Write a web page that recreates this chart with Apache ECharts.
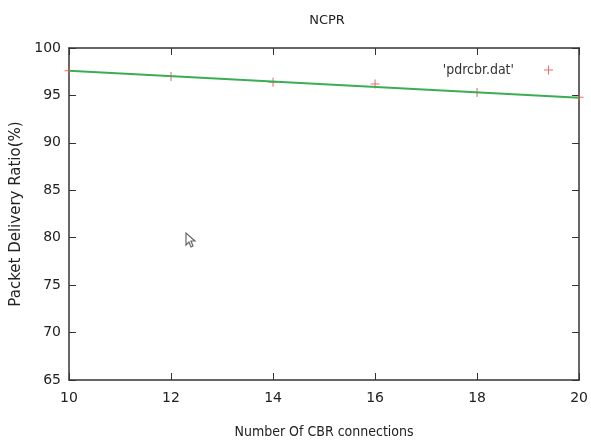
<!DOCTYPE html>
<html>
<head>
<meta charset="utf-8">
<script src="https://cdn.jsdelivr.net/npm/echarts@6/dist/echarts.min.js"></script>
<style>
  html, body { margin: 0; padding: 0; background: #fff; }
  #chart { width: 591px; height: 444px; }
</style>
</head>
<body>
<div id="chart"></div>
<script>
// Number of CBR connections and measured packet delivery ratio (%)
const connections = [10, 12, 14, 16, 18, 20];
const deliveryRatio = [97.6, 97.0, 96.4, 96.2, 95.3, 94.8];

// Straight trend line through the measurements (end points)
const trendX = [10, 20];
const trendY = [97.6, 94.75];

const xTicks = { min: 10, max: 20, interval: 2 };
const yTicks = { min: 65, max: 100, interval: 5 };

const font = 'DejaVu Sans';
const narrowFont = 'DejaVu Sans Condensed';
const axisColor = '#333';
const pointColor = '#e5484d';
const plusIcon = 'path://M4.4,0H5.6V4.4H10V5.6H5.6V10H4.4V5.6H0V4.4H4.4Z';

const chart = echarts.init(document.getElementById('chart'));

const tickStyle = { inside: true, length: 7, lineStyle: { color: axisColor, width: 1 } };
const lineStyle = { show: true, onZero: false, lineStyle: { color: axisColor, width: 1.5 } };

chart.setOption({
  animation: false,
  backgroundColor: '#fff',
  title: {
    text: 'NCPR',
    left: 322,
    textAlign: 'center',
    top: 9,
    textStyle: { fontFamily: font, fontSize: 13, fontWeight: 'normal', color: '#222' }
  },
  legend: {
    right: 33,
    top: 58,
    align: 'right',
    itemWidth: 9,
    itemHeight: 9,
    itemGap: 0,
    itemStyle: { color: pointColor },
    textStyle: { fontFamily: narrowFont, fontSize: 14, color: '#333', padding: [0, 25, 0, 0] },
    data: [{ name: "'pdrcbr.dat'", icon: plusIcon, itemStyle: { color: pointColor } }]
  },
  grid: { left: 69, right: 11, top: 48, bottom: 64 },
  xAxis: [
    {
      type: 'value',
      min: xTicks.min, max: xTicks.max, interval: xTicks.interval,
      name: 'Number Of CBR connections',
      nameLocation: 'middle',
      nameGap: 45,
      nameTextStyle: { fontFamily: narrowFont, fontSize: 14, color: '#222' },
      axisLine: lineStyle,
      axisTick: tickStyle,
      axisLabel: { fontFamily: font, fontSize: 14, color: '#222', margin: 11 },
      splitLine: { show: false }
    },
    {
      type: 'value', position: 'top',
      min: xTicks.min, max: xTicks.max, interval: xTicks.interval,
      axisLine: lineStyle,
      axisTick: tickStyle,
      axisLabel: { show: false },
      splitLine: { show: false }
    }
  ],
  yAxis: [
    {
      type: 'value',
      min: yTicks.min, max: yTicks.max, interval: yTicks.interval,
      name: 'Packet Delivery Ratio(%)',
      nameLocation: 'middle',
      nameGap: 40,
      nameRotate: 90,
      nameTextStyle: { fontFamily: font, fontSize: 15, color: '#222' },
      axisLine: lineStyle,
      axisTick: tickStyle,
      axisLabel: { fontFamily: font, fontSize: 14, color: '#222', margin: 8 },
      splitLine: { show: false }
    },
    {
      type: 'value', position: 'right',
      min: yTicks.min, max: yTicks.max, interval: yTicks.interval,
      axisLine: lineStyle,
      axisTick: tickStyle,
      axisLabel: { show: false },
      splitLine: { show: false }
    }
  ],
  series: [
    {
      name: "'pdrcbr.dat'",
      type: 'scatter',
      data: connections.map((c, i) => [c, deliveryRatio[i]]),
      symbol: plusIcon,
      symbolSize: 9,
      itemStyle: { color: pointColor },
      clip: false,
      z: 2
    },
    {
      name: 'trend',
      type: 'line',
      data: trendX.map((c, i) => [c, trendY[i]]),
      showSymbol: false,
      symbol: 'none',
      lineStyle: { color: '#3aae55', width: 2 },
      z: 3
    }
  ],
  graphic: [
    {
      // mouse pointer left on the plot
      type: 'polygon',
      x: 186, y: 233,
      shape: { points: [[0, 0], [0, 12], [3, 9], [5, 14], [7, 13], [5, 8], [9, 8]] },
      style: { fill: '#fff', stroke: '#666', lineWidth: 1.2 },
      z: 10
    }
  ]
});
</script>
</body>
</html>
